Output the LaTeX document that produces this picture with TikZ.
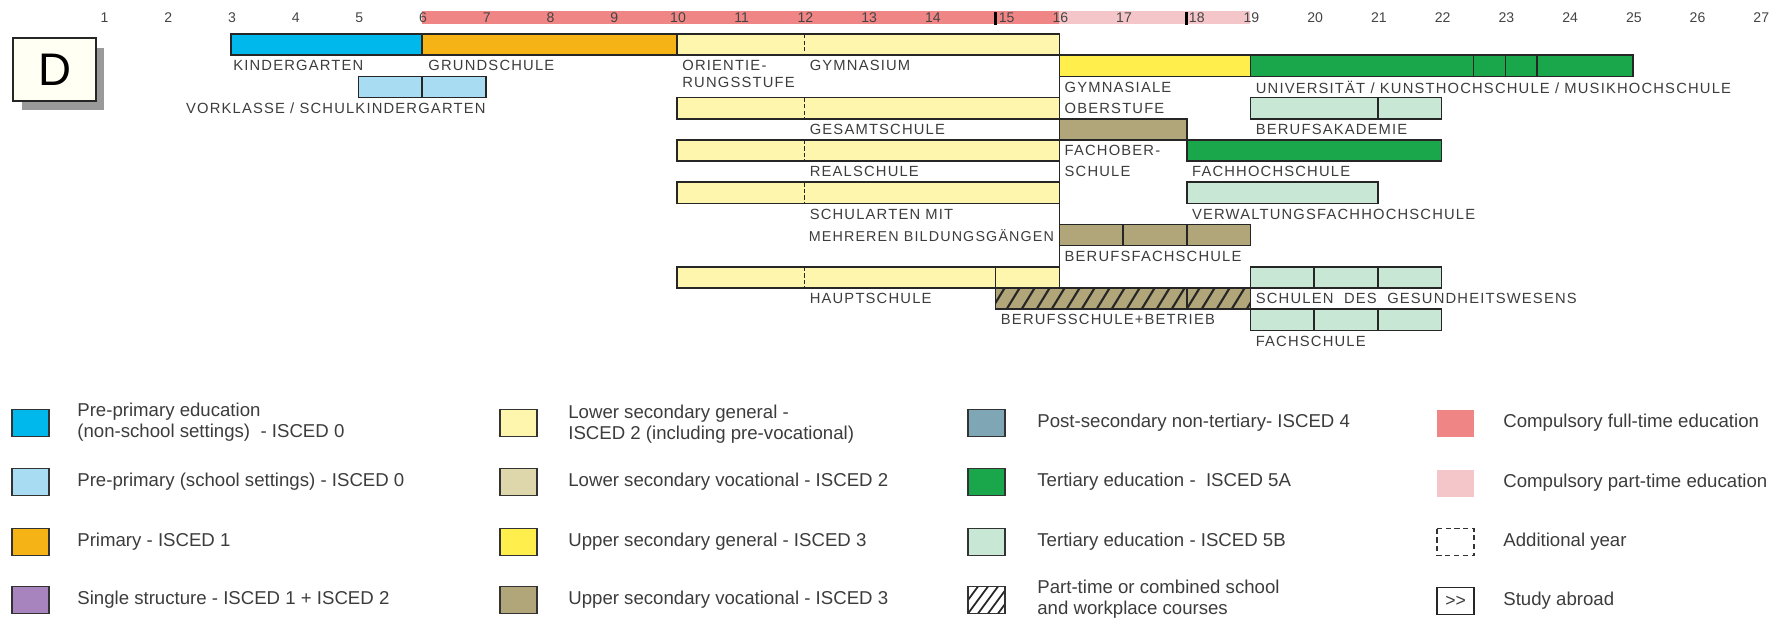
\documentclass[tikz,border=0pt]{standalone}
\usepackage{fontspec}
\setmainfont{Liberation Sans}
\newfontfamily\lblfont[LetterSpace=8]{Liberation Sans}
\definecolor{kgblue}{HTML}{00B8EC}
\definecolor{lblue}{HTML}{A7DCF3}
\definecolor{prim}{HTML}{F6B316}
\definecolor{purp}{HTML}{A884BE}
\definecolor{lyell}{HTML}{FFF6AD}
\definecolor{lvoc}{HTML}{DDD7AB}
\definecolor{uyell}{HTML}{FFEE4C}
\definecolor{tan}{HTML}{B1A679}
\definecolor{postsec}{HTML}{7FA6B5}
\definecolor{dgreen}{HTML}{1AA64B}
\definecolor{lgreen}{HTML}{C8E7D4}
\definecolor{redband}{HTML}{F08585}
\definecolor{pinkband}{HTML}{F5C6C9}
\definecolor{txtgray}{HTML}{3C3C3C}
\definecolor{numgray}{HTML}{444444}
\definecolor{dcream}{HTML}{FFFFF3}
\definecolor{shadowgray}{HTML}{9A9A9A}
% bar: #1 from year, #2 to year, #3 row, #4 fill
\newcommand\ebar[4]{\path[barline, fill=#4] ({39.8+63.72*#1},{34.1+21.16*#3}) rectangle ({39.8+63.72*#2},{34.1+21.16*(#3+1)});}
% divider: #1 year, #2 row
\newcommand\ediv[2]{\draw[barline] ({39.8+63.72*#1},{34.1+21.16*#2}) -- ({39.8+63.72*#1},{34.1+21.16*(#2+1)});}
\newcommand\edash[2]{\draw[barline, dash pattern=on 2.5pt off 1.2pt] ({39.8+63.72*#1},{34.1+21.16*#2}) -- ({39.8+63.72*#1},{34.1+21.16*(#2+1)});}
% swatch: #1 x, #2 centre y, #3 style
\newcommand\esw[3]{\path[#3] (#1,{#2-13.5}) rectangle ({#1+37},{#2+13.5});}
\begin{document}
\begin{tikzpicture}[x=0.02cm,y=-0.02cm,
  barline/.style={draw=black!85, line width=0.9pt},
  lbl/.style={font=\lblfont\fontsize{8.4}{10}\selectfont, text=txtgray, inner sep=0pt, anchor=west},
  leg/.style={font=\fontsize{10.6}{12.3}\selectfont, text=txtgray, inner sep=0pt, anchor=west, align=left},
  num/.style={font=\fontsize{8}{9}\selectfont, text=numgray, inner sep=0pt},
  swatch/.style={draw=black!80, line width=0.9pt}]
\useasboundingbox (0,0) rectangle (1784,619);

% ---- age axis ----
\fill[redband] ({39.8+63.72*6},11) rectangle ({39.8+63.72*16},24);
\fill[pinkband] ({39.8+63.72*16},11) rectangle ({39.8+63.72*19},24);
\foreach \n in {1,...,14,16,17,19,20,...,27}
  \node[num] (n\n) at ({40.8+63.72*\n},18) {\n};
\node[num] (n15) at ({39.8+63.72*15+11},18) {15};
\node[num] (n18) at ({39.8+63.72*18+10},18) {18};
\draw[line width=1.6pt] ({39.8+63.72*15},12) -- ({39.8+63.72*15},25);
\draw[line width=1.6pt] ({39.8+63.72*18},12) -- ({39.8+63.72*18},25);

% ---- country box ----
\fill[shadowgray] (22,47.5) rectangle (104.2,110.2);
\node[draw=black!85, line width=1pt, fill=dcream, minimum width=1.646cm, minimum height=1.254cm,
  font=\fontsize{26}{26}\selectfont, inner sep=0pt] (Dbox) at (54.5,69.4) {D};

% ---- bars ----
\ebar{3}{6}{0}{kgblue}
\ebar{6}{10}{0}{prim}
\ebar{10}{16}{0}{lyell} \edash{12}{0}
\ebar{16}{19}{1}{uyell}
\ebar{19}{25}{1}{dgreen} \ediv{22.5}{1} \ediv{23}{1} \ediv{23.5}{1}
\ebar{5}{7}{2}{lblue} \ediv{6}{2}
\ebar{10}{16}{3}{lyell} \edash{12}{3}
\ebar{19}{22}{3}{lgreen} \ediv{21}{3}
\ebar{16}{18}{4}{tan}
\ebar{10}{16}{5}{lyell} \edash{12}{5}
\ebar{18}{22}{5}{dgreen}
\ebar{10}{16}{7}{lyell} \edash{12}{7}
\ebar{18}{21}{7}{lgreen}
\ebar{16}{19}{9}{tan} \ediv{17}{9} \ediv{18}{9}
\ebar{10}{16}{11}{lyell} \edash{12}{11} \ediv{15}{11}
\ebar{19}{22}{11}{lgreen} \ediv{20}{11} \ediv{21}{11}
% hatched part-time bar
\fill[tan] ({39.8+63.72*15},{34.1+21.16*12}) rectangle ({39.8+63.72*19},{34.1+21.16*13});
\begin{scope}
  \clip ({39.8+63.72*15},{34.1+21.16*12}) rectangle ({39.8+63.72*19},{34.1+21.16*13});
  \foreach \i in {0,...,18}
    \draw[line width=1.2pt, black!85] ({39.8+63.72*15+15*\i-4},{34.1+21.16*13}) -- ++(13,-21.16);
\end{scope}
\path[barline] ({39.8+63.72*15},{34.1+21.16*12}) rectangle ({39.8+63.72*19},{34.1+21.16*13});
\ediv{18}{12}
\ebar{19}{22}{13}{lgreen} \ediv{20}{13} \ediv{21}{13}
% vertical line at age 16
\draw[barline] ({39.8+63.72*16},34.1) -- ({39.8+63.72*16},{34.1+21.16*12});

% ---- bar labels ----
\node[lbl] (kg) at ({39.8+63.72*3+2},{44.68+21.16*1}) {KINDERGARTEN};
\node[lbl] (gs) at ({39.8+63.72*6+6},{44.68+21.16*1}) {GRUNDSCHULE};
\node[lbl] (os1) at ({39.8+63.72*10+5},{44.68+21.16*1}) {ORIENTIE-};
\node[lbl] (os2) at ({39.8+63.72*10+5},82) {RUNGSSTUFE};
\node[lbl] (gym) at ({39.8+63.72*12+5},{44.68+21.16*1}) {GYMNASIUM};
\node[lbl, anchor=east] (vk) at ({39.8+63.72*7},{44.68+21.16*3}) {VORKLASSE / SCHULKINDERGARTEN};
\node[lbl] (go1) at ({39.8+63.72*16+5},{44.68+21.16*2}) {GYMNASIALE};
\node[lbl] (go2) at ({39.8+63.72*16+5},{44.68+21.16*3}) {OBERSTUFE};
\node[lbl] (uni) at ({39.8+63.72*19+5},{44.68+21.16*2}) {UNIVERSITÄT / KUNSTHOCHSCHULE / MUSIKHOCHSCHULE};
\node[lbl] (ges) at ({39.8+63.72*12+5},{44.68+21.16*4}) {GESAMTSCHULE};
\node[lbl] (ba) at ({39.8+63.72*19+5},{44.68+21.16*4}) {BERUFSAKADEMIE};
\node[lbl] (fos1) at ({39.8+63.72*16+5},{44.68+21.16*5}) {FACHOBER-};
\node[lbl] (fos2) at ({39.8+63.72*16+5},{44.68+21.16*6}) {SCHULE};
\node[lbl] (rs) at ({39.8+63.72*12+5},{44.68+21.16*6}) {REALSCHULE};
\node[lbl] (fh) at ({39.8+63.72*18+5},{44.68+21.16*6}) {FACHHOCHSCHULE};
\node[lbl] (sm1) at ({39.8+63.72*12+5},{44.68+21.16*8}) {SCHULARTEN MIT};
\node[lbl, font=\lblfont\fontsize{8.15}{10}\selectfont] (sm2) at ({39.8+63.72*12+4},{44.68+21.16*9}) {MEHREREN BILDUNGSGÄNGEN};
\node[lbl] (vfh) at ({39.8+63.72*18+5},{44.68+21.16*8}) {VERWALTUNGSFACHHOCHSCHULE};
\node[lbl] (bfs) at ({39.8+63.72*16+5},{44.68+21.16*10}) {BERUFSFACHSCHULE};
\node[lbl] (hs) at ({39.8+63.72*12+5},{44.68+21.16*12}) {HAUPTSCHULE};
\node[lbl] (sgw) at ({39.8+63.72*19+5},{44.68+21.16*12}) {SCHULEN \ DES \ GESUNDHEITSWESENS};
\node[lbl] (bsb) at ({39.8+63.72*15+5},{44.68+21.16*13}) {BERUFSSCHULE+BETRIEB};
\node[lbl] (fs) at ({39.8+63.72*19+5},{44.68+21.16*14}) {FACHSCHULE};

% ---- legend ----
% column 1
\esw{12}{423}{swatch, fill=kgblue}
\node[leg] (l11) at (77,422) {Pre-primary education\\(non-school settings) \ - ISCED 0};
\esw{12}{482}{swatch, fill=lblue}
\node[leg] (l12) at (77,482) {Pre-primary (school settings) - ISCED 0};
\esw{12}{542}{swatch, fill=prim}
\node[leg] (l13) at (77,542) {Primary - ISCED 1};
\esw{12}{600}{swatch, fill=purp}
\node[leg] (l14) at (77,600) {Single structure - ISCED 1 + ISCED 2};
% column 2
\esw{500}{423}{swatch, fill=lyell}
\node[leg] (l21) at (568,424) {Lower secondary general -\\ISCED 2 (including pre-vocational)};
\esw{500}{482}{swatch, fill=lvoc}
\node[leg] (l22) at (568,482) {Lower secondary vocational - ISCED 2};
\esw{500}{542}{swatch, fill=uyell}
\node[leg] (l23) at (568,542) {Upper secondary general - ISCED 3};
\esw{500}{600}{swatch, fill=tan}
\node[leg] (l24) at (568,600) {Upper secondary vocational - ISCED 3};
% column 3
\esw{968}{423}{swatch, fill=postsec}
\node[leg] (l31) at (1037,423) {Post-secondary non-tertiary- ISCED 4};
\esw{968}{482}{swatch, fill=dgreen}
\node[leg] (l32) at (1037,482) {Tertiary education - \ ISCED 5A};
\esw{968}{542}{swatch, fill=lgreen}
\node[leg] (l33) at (1037,542) {Tertiary education - ISCED 5B};
\begin{scope}
  \clip (968,586.5) rectangle (1005,613.5);
  \foreach \i in {0,...,5}
    \draw[line width=1pt, black!85] ({958+10*\i},613.5) -- ++(20,-27);
\end{scope}
\esw{968}{600}{swatch}
\node[leg] (l34) at (1037,599) {Part-time or combined school\\and workplace courses};
% column 4
\esw{1437}{423}{fill=redband}
\node[leg] (l41) at (1503,423) {Compulsory full-time education};
\esw{1437}{483}{fill=pinkband}
\node[leg] (l42) at (1503,483) {Compulsory part-time education};
\esw{1437}{542}{draw=black!80, line width=0.9pt, dash pattern=on 3pt off 2pt}
\node[leg] (l43) at (1503,542) {Additional year};
\node[draw=black!85, line width=0.9pt, minimum width=0.74cm, minimum height=0.54cm, inner sep=0pt,
  font=\fontsize{10}{10}\selectfont, text=txtgray] (sa) at (1455.5,601) {>{}>};
\node[leg] (l44) at (1503,601) {Study abroad};
\end{tikzpicture}
\end{document}
